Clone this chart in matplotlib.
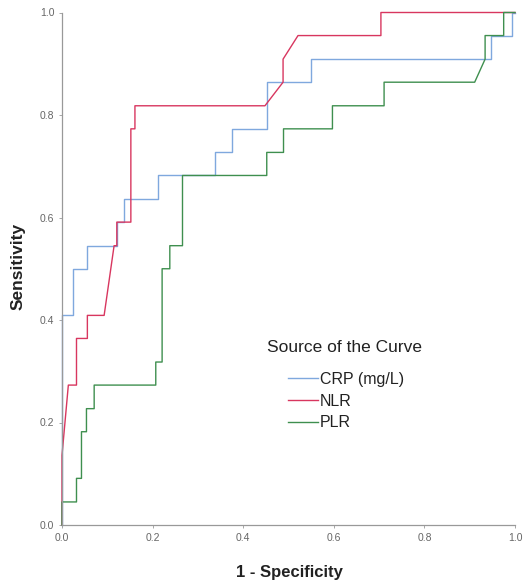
import matplotlib
matplotlib.use("Agg")
import matplotlib.pyplot as plt

plt.rcParams['font.family'] = ['Liberation Sans', 'DejaVu Sans']

# ROC curves (x = 1 - specificity, y = sensitivity)
crp_x = [0, 0, 0.024, 0.024, 0.056, 0.056, 0.121, 0.121, 0.137, 0.137, 0.213, 0.213,
         0.338, 0.338, 0.376, 0.376, 0.452, 0.452, 0.549, 0.549, 0.948, 0.948, 0.993, 0.993, 1.0]
crp_y = [0, 0.409, 0.409, 0.5, 0.5, 0.545, 0.545, 0.591, 0.591, 0.636, 0.636, 0.682,
         0.682, 0.727, 0.727, 0.773, 0.773, 0.864, 0.864, 0.909, 0.909, 0.955, 0.955, 1.0, 1.0]

nlr_x = [0, 0, 0.014, 0.032, 0.032, 0.056, 0.056, 0.093, 0.115, 0.121, 0.121, 0.152,
         0.152, 0.161, 0.161, 0.448, 0.488, 0.488, 0.521, 0.704, 0.704, 1.0]
nlr_y = [0, 0.136, 0.273, 0.273, 0.364, 0.364, 0.409, 0.409, 0.545, 0.545, 0.591, 0.591,
         0.773, 0.773, 0.818, 0.818, 0.864, 0.909, 0.955, 0.955, 1.0, 1.0]

plr_x = [0, 0, 0.032, 0.032, 0.043, 0.043, 0.054, 0.054, 0.071, 0.071, 0.207, 0.207,
         0.221, 0.221, 0.238, 0.238, 0.266, 0.266, 0.452, 0.452, 0.489, 0.489, 0.597, 0.597,
         0.711, 0.711, 0.911, 0.934, 0.934, 0.975, 0.975, 1.0]
plr_y = [0, 0.045, 0.045, 0.091, 0.091, 0.182, 0.182, 0.227, 0.227, 0.273, 0.273, 0.318,
         0.318, 0.5, 0.5, 0.545, 0.545, 0.682, 0.682, 0.727, 0.727, 0.773, 0.773, 0.818,
         0.818, 0.864, 0.864, 0.909, 0.955, 0.955, 1.0, 1.0]

labels = ['CRP (mg/L)', 'NLR', 'PLR']
colors = ['#7fa8de', '#d8365f', '#3f8f4f']
ticks = [0.0, 0.2, 0.4, 0.6, 0.8, 1.0]

fig = plt.figure(figsize=(5.25, 5.87), dpi=100)
ax = fig.add_axes([62/525, 1-525/587, 453/525, 512.5/587])

curves = [(crp_x, crp_y), (nlr_x, nlr_y), (plr_x, plr_y)]
for (xs, ys), lab, c in zip(curves, labels, colors):
    ax.plot(xs, ys, color=c, lw=1.0, label=lab, clip_on=False)

ax.set_xlim(0, 1)
ax.set_ylim(0, 1)
ax.set_xticks(ticks)
ax.set_yticks(ticks)
ax.set_xticklabels([f'{t:.1f}' for t in ticks])
ax.set_yticklabels([f'{t:.1f}' for t in ticks])
ax.tick_params(labelsize=7.5, labelcolor='#666666', color='#999999', length=2, width=0.6, pad=3.5)
for s in ['top', 'right']:
    ax.spines[s].set_visible(False)
for s in ['left', 'bottom']:
    ax.spines[s].set_color('#999999')
    ax.spines[s].set_linewidth(0.9)

fig.text(18/525, 1-266/587, 'Sensitivity', rotation=90, ha='center', va='center',
         fontsize=12.5, fontweight='bold', color='#222222')
fig.text(289/525, 1-573/587, '1 - Specificity', ha='center', va='center',
         fontsize=12, fontweight='bold', color='#222222')

fig.text(267/525, 1-348/587, 'Source of the Curve', ha='left', va='center',
         fontsize=12.5, color='#222222')
leg = ax.legend(loc='upper left', bbox_to_anchor=(288/525, 1-372/587),
                bbox_transform=fig.transFigure, frameon=False, fontsize=11.5,
                handlelength=1.9, handletextpad=0.1, labelspacing=0.42,
                borderpad=0, borderaxespad=0)
for t in leg.get_texts():
    t.set_color('#222222')

fig.savefig('out.png', dpi=100)
